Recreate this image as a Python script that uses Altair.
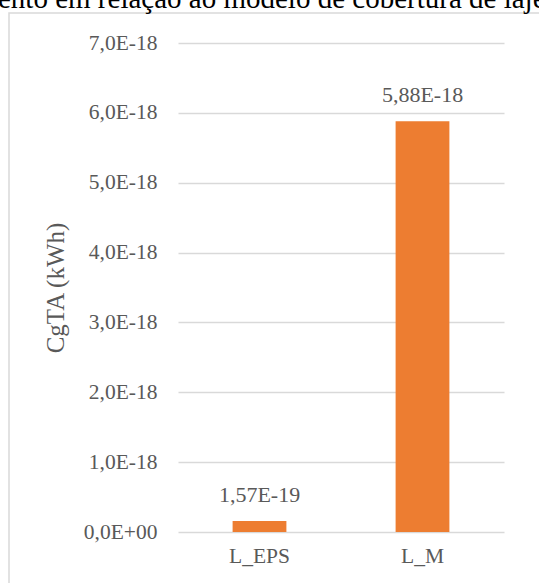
import altair as alt
import pandas as pd

# Cooling load values per slab model
categories = ["L_EPS", "L_M"]
values = [1.57e-19, 5.88e-18]
value_labels = ["1,57E-19", "5,88E-18"]

# Y axis tick labels (steps of 1E-18)
tick_values = [i * 1e-18 for i in range(8)]
tick_labels = ["0,0E+00", "1,0E-18", "2,0E-18", "3,0E-18",
               "4,0E-18", "5,0E-18", "6,0E-18", "7,0E-18"]

caption = "ento em relação ao modelo de cobertura de laje"

df = pd.DataFrame({"modelo": categories, "valor": values, "rotulo": value_labels})

SERIF = "Times New Roman, Liberation Serif, DejaVu Serif, serif"
GRAY = "#595959"
label_expr = "[" + ",".join(f"'{t}'" for t in tick_labels) + "][round(datum.value * 1e18)]"

x_enc = alt.X(
    "modelo:N",
    sort=categories,
    scale=alt.Scale(paddingInner=0.67, paddingOuter=0.335),
    axis=alt.Axis(title=None, labelAngle=0, labelFont=SERIF, labelFontSize=21.5,
                  labelColor=GRAY, labelPadding=13, ticks=False, domain=False,
                  grid=False),
)
y_enc = alt.Y(
    "valor:Q",
    scale=alt.Scale(domain=[0, 7e-18], nice=False),
    axis=alt.Axis(title="CgTA (kWh)", titleFont=SERIF, titleFontSize=25,
                  titleFontWeight="normal", titleColor=GRAY, titlePadding=15,
                  values=tick_values, labelExpr=label_expr, labelFont=SERIF,
                  labelFontSize=21.5, labelColor=GRAY, labelPadding=21,
                  ticks=False, domain=False, grid=True, gridColor="#d9d9d9",
                  gridWidth=1.5),
)

bars = alt.Chart(df).mark_bar(color="#ED7D31").encode(x=x_enc, y=y_enc)

labels = alt.Chart(df).mark_text(
    font=SERIF, fontSize=22, color=GRAY, baseline="bottom", dy=-14
).encode(x=alt.X("modelo:N", sort=categories), y="valor:Q", text="rotulo:N")

# chart-area frame
frame = alt.Chart(alt.Data(values=[{}])).mark_rect(
    fill=None, stroke="#d9d9d9", strokeWidth=1.5
).encode(x=alt.value(-169), x2=alt.value(600), y=alt.value(-30), y2=alt.value(700))

# running caption text above the chart
header = alt.Chart(alt.Data(values=[{}])).mark_text(
    font=SERIF, fontSize=29, color="black", align="left", baseline="alphabetic"
).encode(x=alt.value(-180), y=alt.value(-35), text=alt.value(caption))

chart = alt.layer(frame, bars, labels, header).properties(
    width=326, height=489,
    padding={"left": 178, "top": 43, "right": 35, "bottom": 51},
    autosize=alt.AutoSizeParams(type="none"),
).configure(background="white", view=alt.ViewConfig(stroke=None))

chart.save("out.html", embed_options={"renderer": "svg", "actions": False})
